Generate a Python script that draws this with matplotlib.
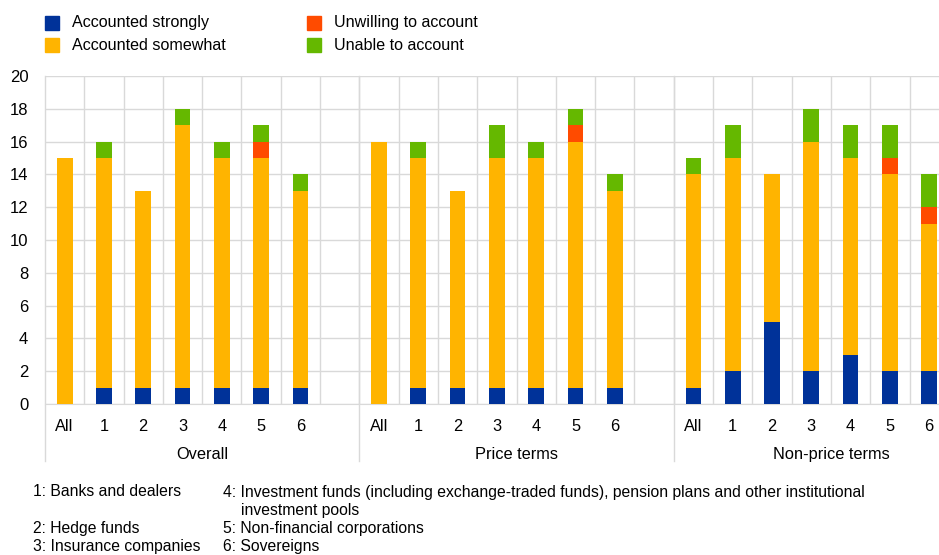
import numpy as np
import matplotlib.pyplot as plt
from matplotlib.patches import Rectangle

plt.rcParams['font.family'] = ['Liberation Sans', 'DejaVu Sans']

grupos = ['Overall', 'Price terms', 'Non-price terms']
categorias = ['All', '1', '2', '3', '4', '5', '6']

# valores: um vetor por grupo, na ordem All, 1..6
forte = [[0, 1, 1, 1, 1, 1, 1],
         [0, 1, 1, 1, 1, 1, 1],
         [1, 2, 5, 2, 3, 2, 2]]
algum = [[15, 14, 12, 16, 14, 14, 12],
         [16, 14, 12, 14, 14, 15, 12],
         [13, 13, 9, 14, 12, 12, 9]]
relutante = [[0, 0, 0, 0, 0, 1, 0],
             [0, 0, 0, 0, 0, 1, 0],
             [0, 0, 0, 0, 0, 1, 1]]
incapaz = [[0, 1, 0, 1, 1, 1, 1],
           [0, 1, 0, 2, 1, 1, 1],
           [1, 2, 0, 2, 2, 2, 2]]

series = ['Accounted strongly', 'Accounted somewhat', 'Unwilling to account', 'Unable to account']
cores = ['#003299', '#FFB400', '#FF4B00', '#65B800']
notas_esq = ['1: Banks and dealers', '2: Hedge funds', '3: Insurance companies']
notas_dir = ['4: Investment funds (including exchange-traded funds), pension plans and other institutional',
             '5: Non-financial corporations', '6: Sovereigns']
nota_continua = 'investment pools'

W, H = 939, 555
fig = plt.figure(figsize=(W / 100, H / 100), dpi=100)
ax = fig.add_axes([45 / W, 1 - 404 / H, 1 - 45 / W, 328 / H])

n_slot = len(categorias) + 1
dados = [np.array(forte), np.array(algum), np.array(relutante), np.array(incapaz)]
for g in range(len(grupos)):
    x = np.arange(len(categorias)) + g * n_slot
    base = np.zeros(len(categorias))
    for s, cor in enumerate(cores):
        vals = dados[s][g]
        ax.bar(x, vals, 0.4, bottom=base, color=cor, zorder=3)
        base = base + vals

ax.set_ylim(0, 20)
ax.set_xlim(-0.5, 22.25)
ax.set_yticks(range(0, 21, 2))
ax.tick_params(axis='y', length=0, labelsize=12, pad=12)
ax.set_xticks([])
for lado in ['top', 'right', 'left']:
    ax.spines[lado].set_visible(False)
ax.spines['bottom'].set_color('#d9d9d9')
ax.yaxis.grid(True, color='#d9d9d9', lw=1, zorder=0)
for b in np.arange(0.5, 23, 1):
    ax.axvline(b, color='#d9d9d9', lw=1, zorder=0)

# rótulos das categorias e dos grupos
tr = ax.get_xaxis_transform()
for g, nome in enumerate(grupos):
    for i, c in enumerate(categorias):
        ax.text(i + g * n_slot, -0.045, c, transform=tr, ha='center', va='top', fontsize=11.8)
    ax.text(g * n_slot + 3.5, -0.13, nome, transform=tr, ha='center', va='top', fontsize=11.8)
    xl = g * n_slot - 0.5
    ax.plot([xl, xl], [1, -0.175], transform=tr, color='#d9d9d9', lw=1, clip_on=False, zorder=0)

# legenda desenhada à mão para acertar as posições
pos_leg = [(45, 23), (45, 45), (307, 23), (307, 45)]
for (px, py), cor, nome in zip(pos_leg, cores, series):
    fig.patches.append(Rectangle((px / W, 1 - (py + 7) / H), 14 / W, 14 / H,
                                 transform=fig.transFigure, color=cor))
    fig.text((px + 27) / W, 1 - py / H, nome, fontsize=11.6, va='center')

# notas de rodapé
linhas_y = [492, 528, 546]
for a, b, y in zip(notas_esq, notas_dir, linhas_y):
    fig.text(33 / W, 1 - y / H, a, fontsize=11.3, va='center')
    fig.text(223 / W, 1 - y / H, b, fontsize=11.3, va='center')
fig.text(241 / W, 1 - 510 / H, nota_continua, fontsize=11.3, va='center')

fig.savefig('out.png', dpi=100)
